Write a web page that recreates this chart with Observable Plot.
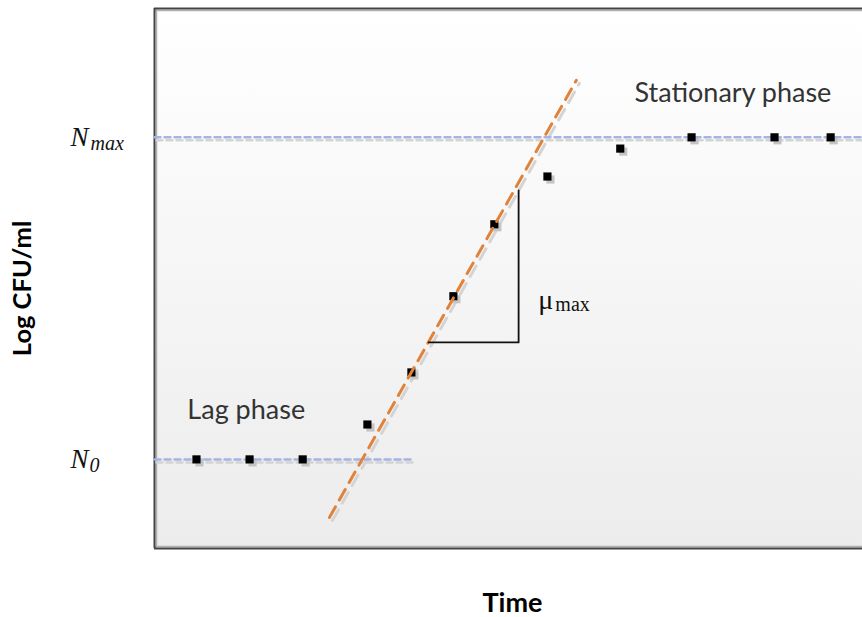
<!DOCTYPE html>
<html><head><meta charset="utf-8">
<script src="https://cdn.jsdelivr.net/npm/d3@7"></script>
<script src="https://cdn.jsdelivr.net/npm/@observablehq/plot@0.6"></script>
<style>body{margin:0;background:#fff;overflow:hidden}</style>
</head><body><div id="chart"></div>
<script>
// observed growth points
const time   = [0.83, 1.88, 2.93, 4.21, 5.08, 5.91, 6.72, 7.77, 9.21, 10.62, 12.26, 13.37];
const logCFU = [3, 3, 3, 3.65, 4.62, 6.04, 7.38, 8.27, 8.79, 9, 9, 9];
// reference levels
const N0 = 3, Nmax = 9;
const lagLineTime = [0, 5.14];
const statLineTime = [0, 14];
// exponential-phase fitted line
const growthTime = [3.46, 8.34];
const growthLog  = [1.92, 10.06];
// slope triangle (mu max)
const slopeTime = [5.42, 7.20, 7.20];
const slopeLog  = [5.18, 5.18, 8.01];
// annotation anchors
const phaseLabels = ["Lag phase", "Stationary phase"];
const phaseTime = [0.65, 9.49];
const phaseLog  = [3.91, 9.82];
const muTime = 7.59, muLog = 5.96;
const xDomain = [0, 14];
const yDomain = [1.34, 11.40];

const pts = time.map((t, i) => ({t, v: logCFU[i]}));
const line2 = (xs, ys) => xs.map((x, i) => ({x, y: ys[i]}));
const lagLine = line2(lagLineTime, [N0, N0]);
const statLine = line2(statLineTime, [Nmax, Nmax]);
const growth = line2(growthTime, growthLog);
const slope = line2(slopeTime, slopeLog);
const phases = phaseLabels.map((s, i) => ({s, x: phaseTime[i], y: phaseLog[i]}));

const defs = () => {
  const g = d3.create("svg:defs");
  const lg = g.append("linearGradient").attr("id", "bg").attr("x1", 0).attr("y1", 0).attr("x2", 0).attr("y2", 1);
  lg.append("stop").attr("offset", "0%").attr("stop-color", "#ffffff");
  lg.append("stop").attr("offset", "100%").attr("stop-color", "#ececec");
  return g.node();
};

const serif = "'Liberation Serif', 'DejaVu Serif', serif";
const sans = "Lato, 'Open Sans', sans-serif";

const chart = Plot.plot({
  width: 862, height: 617,
  marginLeft: 154, marginRight: 0, marginTop: 8, marginBottom: 69,
  x: {domain: xDomain, axis: null},
  y: {domain: yDomain, axis: null},
  marks: [
    defs,
    Plot.frame({fill: "url(#bg)", stroke: "none"}),
    // frame (left, top, bottom) with soft inner shadow
    Plot.ruleX([xDomain[0]], {stroke: "#b0b0b0", strokeWidth: 1.5, dx: 2}),
    Plot.ruleY([yDomain[1]], {stroke: "#b0b0b0", strokeWidth: 1.5, dy: 2}),
    Plot.ruleY([yDomain[0]], {stroke: "#b0b0b0", strokeWidth: 1.5, dy: -2}),
    Plot.ruleX([xDomain[0]], {stroke: "#444", strokeWidth: 2}),
    Plot.ruleY(yDomain, {stroke: "#444", strokeWidth: 2}),
    // shadows
    Plot.line(statLine, {x: "x", y: "y", stroke: "#d4d4d4", strokeWidth: 2.5, strokeDasharray: "6,4", dx: 2, dy: 3}),
    Plot.line(lagLine, {x: "x", y: "y", stroke: "#d4d4d4", strokeWidth: 2.5, strokeDasharray: "6,4", dx: 2, dy: 3}),
    Plot.line(growth, {x: "x", y: "y", stroke: "#d4d4d4", strokeWidth: 3, strokeDasharray: "12,8", dx: 3, dy: 3}),
    Plot.dot(pts, {x: "t", y: "v", symbol: "square", r: 4.6, fill: "#c4c4c4", dx: 3, dy: 3}),
    // reference lines
    Plot.line(statLine, {x: "x", y: "y", stroke: "#a6b4e2", strokeWidth: 2.5, strokeDasharray: "6,4"}),
    Plot.line(lagLine, {x: "x", y: "y", stroke: "#a6b4e2", strokeWidth: 2.5, strokeDasharray: "6,4"}),
    // points
    Plot.dot(pts, {x: "t", y: "v", symbol: "square", r: 4.6, fill: "#000"}),
    // growth line
    Plot.line(growth, {x: "x", y: "y", stroke: "#e0823a", strokeWidth: 3, strokeDasharray: "12,8"}),
    // slope triangle
    Plot.line(slope, {x: "x", y: "y", stroke: "#111", strokeWidth: 1.8}),
    // phase labels
    Plot.text(phases, {x: "x", y: "y", text: "s", textAnchor: "start", fontSize: 27, fontFamily: sans, fill: "#333"}),
    // mu max
    Plot.text(["μ"], {x: () => muTime, y: () => muLog, textAnchor: "start", fontSize: 28, fontFamily: serif, fill: "#111"}),
    Plot.text(["max"], {x: () => muTime, y: () => muLog, textAnchor: "start", dx: 17, dy: 4, fontSize: 20, fontFamily: serif, fill: "#111"}),
    // N labels
    Plot.text(["N"], {y: () => Nmax, frameAnchor: "left", dx: -84, textAnchor: "start", fontSize: 27, fontStyle: "italic", fontFamily: serif, fill: "#111"}),
    Plot.text(["max"], {y: () => Nmax, frameAnchor: "left", dx: -64, dy: 6, textAnchor: "start", fontSize: 20, fontStyle: "italic", fontFamily: serif, fill: "#111"}),
    Plot.text(["N"], {y: () => N0, frameAnchor: "left", dx: -84, textAnchor: "start", fontSize: 27, fontStyle: "italic", fontFamily: serif, fill: "#111"}),
    Plot.text(["0"], {y: () => N0, frameAnchor: "left", dx: -65, dy: 6, textAnchor: "start", fontSize: 20, fontStyle: "italic", fontFamily: serif, fill: "#111"}),
    // axis titles
    Plot.text(["Log CFU/ml"], {frameAnchor: "left", textAnchor: "middle", lineAnchor: "middle", dx: -132, dy: 10, rotate: -90, fontSize: 25.5, fontWeight: "bold", fontFamily: sans, fill: "#000"}),
    Plot.text(["Time"], {frameAnchor: "bottom", textAnchor: "middle", lineAnchor: "middle", dx: 4, dy: 55, fontSize: 27, fontWeight: "bold", fontFamily: sans, fill: "#000"})
  ]
});
document.getElementById("chart").appendChild(chart);
</script>
</body></html>
